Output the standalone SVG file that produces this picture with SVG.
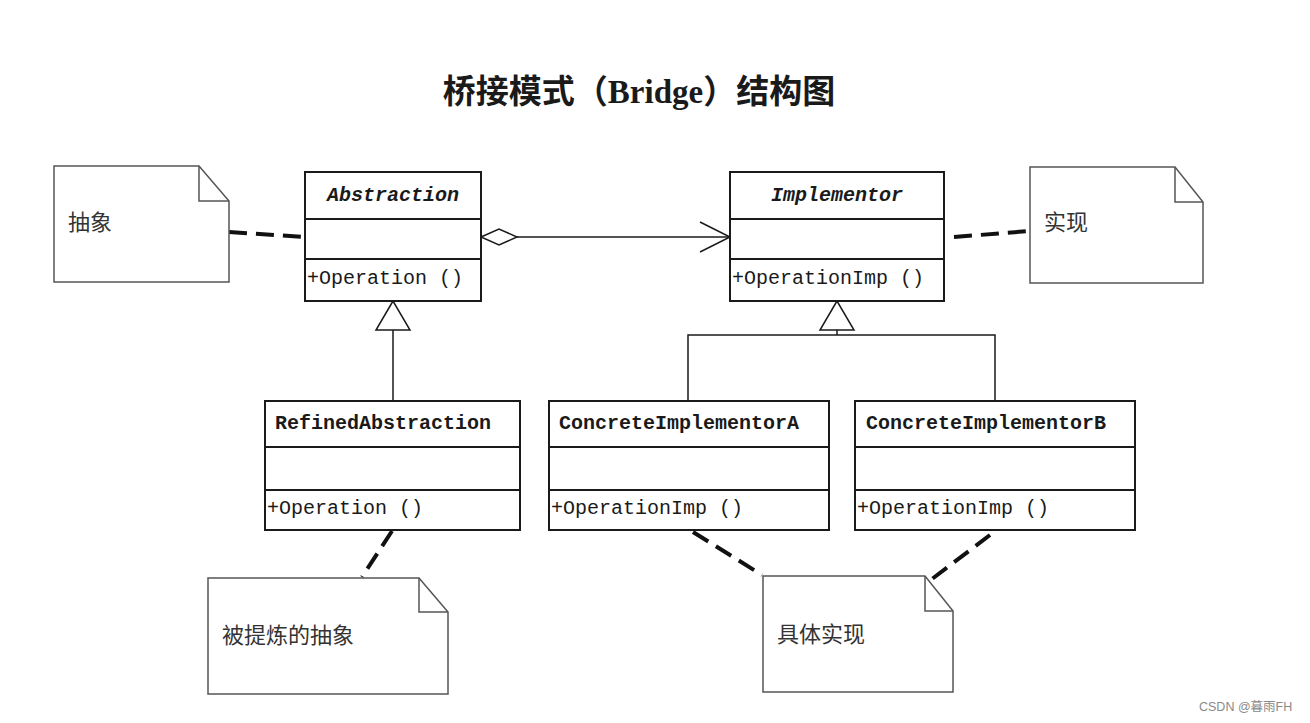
<svg xmlns="http://www.w3.org/2000/svg" width="1310" height="723" viewBox="0 0 1310 723">
<style>
.bg{fill:#ffffff}
.box{fill:#ffffff;stroke:#1a1a1a;stroke-width:2}
.div{stroke:#1a1a1a;stroke-width:2}
.note{fill:#ffffff;stroke:#555555;stroke-width:1.5}
.fold{fill:none;stroke:#555555;stroke-width:1.5}
.cls{font-family:"Liberation Mono","DejaVu Sans Mono",monospace;font-size:20px;fill:#1a1a1a}
.abs{font-weight:bold;font-style:italic}
.bold{font-weight:bold}
.cn{font-family:"Noto Sans CJK SC",sans-serif;font-size:22px;fill:#333333}
.title{font-family:"Liberation Serif","Noto Sans CJK SC",serif;font-size:33px;font-weight:bold;fill:#1a1a1a}
.line{fill:none;stroke:#1a1a1a;stroke-width:1.5}
.dash{fill:none;stroke:#111111;stroke-width:4;stroke-dasharray:18 9}
.tri{fill:#ffffff;stroke:#1a1a1a;stroke-width:1.5}
.wm{font-family:"Liberation Sans","Noto Sans CJK SC",sans-serif;font-size:12.5px;fill:#8a8a8a}
</style>
<rect class="bg" x="0" y="0" width="1310" height="723"/>
<text class="title" x="639" y="103" text-anchor="middle">桥接模式（Bridge）结构图</text>

<g id="connectors">
  <line class="dash" x1="229" y1="232" x2="305" y2="237"/>
  <line class="dash" x1="954" y1="237" x2="1030" y2="231"/>
  <line class="dash" x1="392" y1="531" x2="362" y2="577"/>
  <line class="dash" x1="693" y1="532" x2="762" y2="575"/>
  <line class="dash" x1="990" y1="535" x2="928" y2="582"/>
  <line class="line" x1="517" y1="237" x2="730" y2="237"/>
  <polygon class="tri" points="481,237 499,229 517,237 499,245"/>
  <polyline class="line" points="700,222 730,237 700,252"/>
  <line class="line" x1="393" y1="330" x2="393" y2="401"/>
  <polygon class="tri" points="393,301 376,330 410,330"/>
  <polyline class="line" points="688,401 688,335 995,335 995,401"/>
  <line class="line" x1="837" y1="330" x2="837" y2="335"/>
  <polygon class="tri" points="837,301 820,330 854,330"/>
</g>

<g id="note-abstraction">
  <path class="note" d="M54,166 H199 L229,201 V282 H54 Z"/>
  <path class="fold" d="M199,166 V201 H229"/>
  <text class="cn" x="68" y="230">抽象</text>
</g>
<g id="note-implementor">
  <path class="note" d="M1030,167 H1175 L1203,202 V283 H1030 Z"/>
  <path class="fold" d="M1175,167 V202 H1203"/>
  <text class="cn" x="1044" y="230">实现</text>
</g>
<g id="note-refined">
  <path class="note" d="M208,578 H419 L448,612 V694 H208 Z"/>
  <path class="fold" d="M419,578 V612 H448"/>
  <text class="cn" x="222" y="643">被提炼的抽象</text>
</g>
<g id="note-concrete">
  <path class="note" d="M763,576 H925 L953,611 V692 H763 Z"/>
  <path class="fold" d="M925,576 V611 H953"/>
  <text class="cn" x="777" y="642">具体实现</text>
</g>

<g id="abstraction">
  <rect class="box" x="305" y="172" width="176" height="129"/>
  <line class="div" x1="305" y1="219" x2="481" y2="219"/>
  <line class="div" x1="305" y1="259" x2="481" y2="259"/>
  <text class="cls abs" x="393" y="201" text-anchor="middle">Abstraction</text>
  <text class="cls" x="307" y="284">+Operation ()</text>
</g>
<g id="implementor">
  <rect class="box" x="730" y="172" width="214" height="129"/>
  <line class="div" x1="730" y1="219" x2="944" y2="219"/>
  <line class="div" x1="730" y1="259" x2="944" y2="259"/>
  <text class="cls abs" x="837" y="201" text-anchor="middle">Implementor</text>
  <text class="cls" x="732" y="284">+OperationImp ()</text>
</g>
<g id="refined-abstraction">
  <rect class="box" x="265" y="401" width="255" height="129"/>
  <line class="div" x1="265" y1="447" x2="520" y2="447"/>
  <line class="div" x1="265" y1="490" x2="520" y2="490"/>
  <text class="cls bold" x="275" y="429">RefinedAbstraction</text>
  <text class="cls" x="267" y="514">+Operation ()</text>
</g>
<g id="concrete-a">
  <rect class="box" x="549" y="401" width="280" height="129"/>
  <line class="div" x1="549" y1="447" x2="829" y2="447"/>
  <line class="div" x1="549" y1="490" x2="829" y2="490"/>
  <text class="cls bold" x="559" y="429">ConcreteImplementorA</text>
  <text class="cls" x="551" y="514">+OperationImp ()</text>
</g>
<g id="concrete-b">
  <rect class="box" x="855" y="401" width="280" height="129"/>
  <line class="div" x1="855" y1="447" x2="1135" y2="447"/>
  <line class="div" x1="855" y1="490" x2="1135" y2="490"/>
  <text class="cls bold" x="866" y="429">ConcreteImplementorB</text>
  <text class="cls" x="857" y="514">+OperationImp ()</text>
</g>

<text class="wm" x="1199" y="711">CSDN @暮雨FH</text>
</svg>
